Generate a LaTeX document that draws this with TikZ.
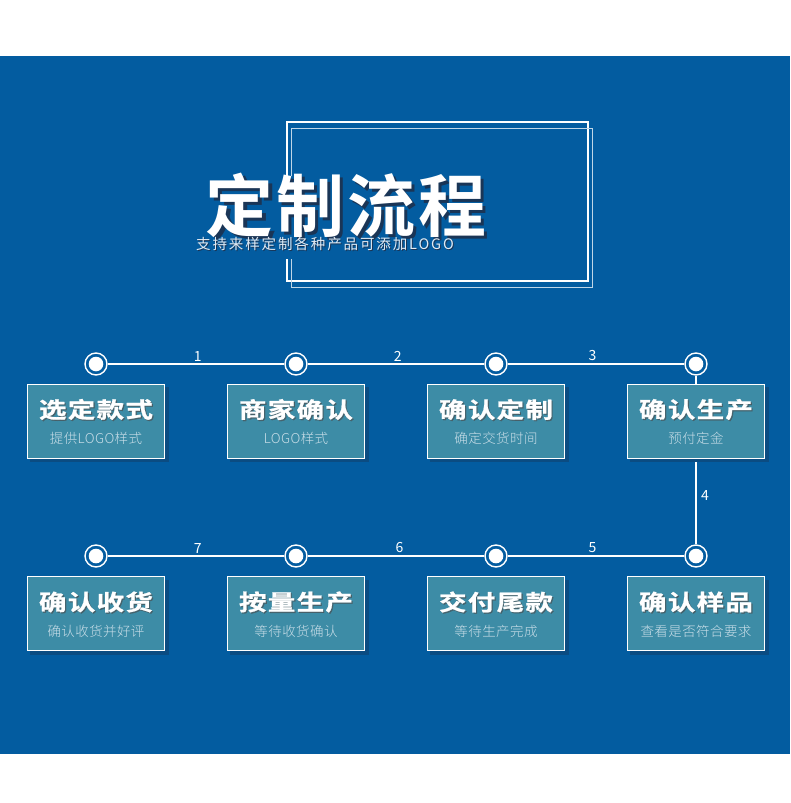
\documentclass[tikz,border=0pt]{standalone}
\usepackage{fontspec}
\newfontfamily\cjk{Noto Sans CJK SC}
\newfontfamily\cjkspaced{Noto Sans CJK SC}[LetterSpace=13]
\newfontfamily\cjkbold{Noto Sans CJK SC Bold}[FakeStretch=1.25,FakeBold=1,LetterSpace=6]
\newfontfamily\cjktitle{Noto Sans CJK SC Bold}
\newfontfamily\cjklight{Noto Sans CJK SC Light}[LetterSpace=3]
\definecolor{bgblue}{HTML}{035CA0}
\definecolor{boxteal}{HTML}{3D8CA6}
\definecolor{shadowblue}{HTML}{0B4C82}
\definecolor{subtxt}{HTML}{C9DEE8}
\definecolor{titleshadow}{HTML}{1A3556}
\tikzset{
  stepcircle/.style={circle,draw=white,line width=1.4pt,fill=bgblue,minimum size=22pt,inner sep=0pt},
  stepline/.style={draw=white,line width=2pt},
  numlabel/.style={text=white,font=\cjk\fontsize{14}{14}\selectfont,inner sep=1pt},
  stepbox/.style={draw=white,line width=1pt,fill=boxteal,minimum width=137pt,minimum height=74pt,inner sep=0pt},
  boxtitle/.style={text=white,font=\cjkbold\fontsize{22}{22}\selectfont,inner sep=0pt},
  boxsub/.style={text=subtxt,font=\cjklight\fontsize{13.5}{14}\selectfont,inner sep=0pt},
  bigtitle/.style={font=\cjktitle\fontsize{68}{68}\selectfont,inner sep=0pt},
  subtitle/.style={font=\cjkspaced\fontsize{14.5}{14.5}\selectfont,inner sep=0pt}
}
\newcommand{\stepcard}[5]{%
  % #1 name, #2 x, #3 y center, #4 title, #5 subtitle
  \fill[shadowblue] (#2-66.5,#3-34) rectangle (#2+72.5,#3+41);
  \node[stepbox] (#1) at (#2,#3) {};
  \node[boxtitle,text=black!70,opacity=0.6] at (#2+1.2,#3-10.3) {#4};
  \node[boxtitle] (#1t) at (#2,#3-11.5) {#4};
  \node[boxsub] (#1s) at (#2,#3+17.5) {#5};
}
\begin{document}
\begin{tikzpicture}[x=1pt,y=-1pt]
\useasboundingbox (0,0) rectangle (790,803);
\fill[white] (0,0) rectangle (790,803);
\fill[bgblue] (0,56) rectangle (790,754);
% header frames
\draw[white,line width=1.2pt] (287,122) rectangle (588,281);
\draw[white!75!bgblue,line width=1pt] (291,128) rectangle (592,287);
\fill[bgblue] (200,176) rectangle (489,259);
\node[bigtitle,text=titleshadow] at (349.5,208.5) {定\hspace{3pt}制\hspace{3pt}流\hspace{3pt}程};
\node[bigtitle,text=white] (title) at (346,205) {定\hspace{3pt}制\hspace{3pt}流\hspace{3pt}程};
\node[subtitle,text=titleshadow] at (326,245) {支持来样定制各种产品可添加LOGO};
\node[subtitle,text=white!88!bgblue] (subtitle) at (325,244) {支持来样定制各种产品可添加LOGO};
% timeline circles
\node[stepcircle] (c1) at (96,364) {};
\node[stepcircle] (c2) at (296,364) {};
\node[stepcircle] (c3) at (496,364) {};
\node[stepcircle] (c4) at (696,364) {};
\node[stepcircle] (c5) at (696,556) {};
\node[stepcircle] (c6) at (496,556) {};
\node[stepcircle] (c7) at (296,556) {};
\node[stepcircle] (c8) at (96,556) {};
\foreach \c in {c1,c2,c3,c4,c5,c6,c7,c8}{\fill[white] (\c) circle (7.3);}
% connectors
\draw[stepline] (c1) -- node[numlabel,above=1pt,pos=0.51] {1} (c2);
\draw[stepline] (c2) -- node[numlabel,above=1pt,pos=0.51] {2} (c3);
\draw[stepline] (c3) -- node[numlabel,above=1pt,pos=0.48] {3} (c4);
\draw[stepline] (c4) -- node[numlabel,right=3pt,pos=0.71] {4} (c5);
\draw[stepline] (c5) -- node[numlabel,above=1pt,pos=0.52] {5} (c6);
\draw[stepline] (c6) -- node[numlabel,above=1pt,pos=0.48] {6} (c7);
\draw[stepline] (c7) -- node[numlabel,above=1pt,pos=0.49] {7} (c8);
% cards
\stepcard{b1}{96}{421}{选定款式}{提供LOGO样式}
\stepcard{b2}{296}{421}{商家确认}{LOGO样式}
\stepcard{b3}{496}{421}{确认定制}{确定交货时间}
\stepcard{b4}{696}{421}{确认生产}{预付定金}
\stepcard{b5}{696}{613.5}{确认样品}{查看是否符合要求}
\stepcard{b6}{496}{613.5}{交付尾款}{等待生产完成}
\stepcard{b7}{296}{613.5}{按量生产}{等待收货确认}
\stepcard{b8}{96}{613.5}{确认收货}{确认收货并好评}
\end{tikzpicture}
\end{document}
